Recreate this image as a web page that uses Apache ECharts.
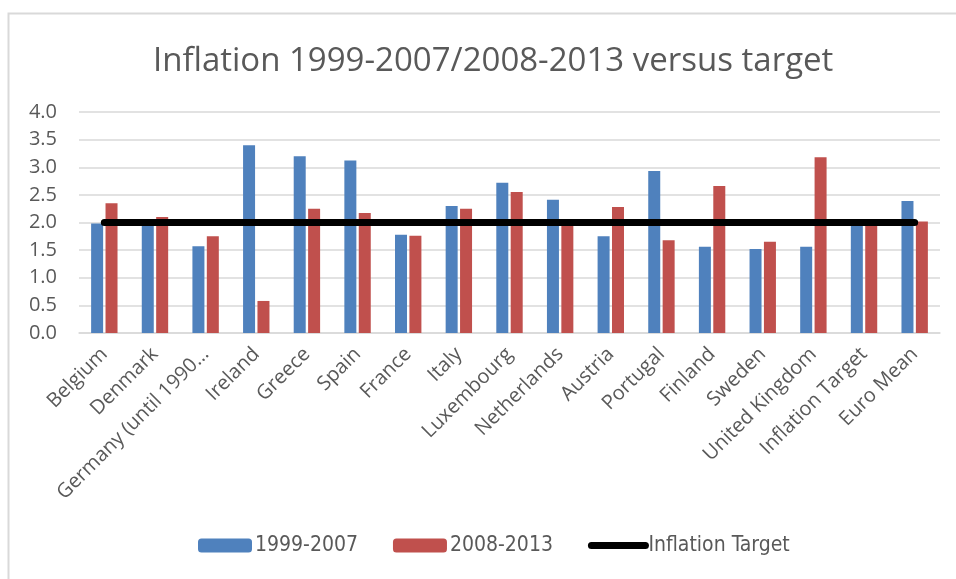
<!DOCTYPE html>
<html>
<head>
<meta charset="utf-8">
<style>
  html, body { margin: 0; padding: 0; background: #ffffff; }
  #chart { width: 956px; height: 579px; }
</style>
<script src="https://cdn.jsdelivr.net/npm/echarts@6/dist/echarts.min.js"></script>
</head>
<body>
<div id="chart"></div>
<script>
// Average annual inflation by country, two periods, against the 2% target
const countries = [
  'Belgium', 'Denmark', 'Germany (until 1990…', 'Ireland', 'Greece', 'Spain',
  'France', 'Italy', 'Luxembourg', 'Netherlands', 'Austria', 'Portugal',
  'Finland', 'Sweden', 'United Kingdom', 'Inflation Target', 'Euro Mean'
];
const period1999_2007 = [1.98, 2.01, 1.57, 3.40, 3.20, 3.12, 1.78, 2.30, 2.72, 2.41, 1.75, 2.93, 1.56, 1.52, 1.56, 2.00, 2.39];
const period2008_2013 = [2.35, 2.10, 1.75, 0.58, 2.25, 2.17, 1.76, 2.25, 2.55, 1.98, 2.28, 1.68, 2.66, 1.65, 3.18, 2.00, 2.02];
const inflationTarget = [2.0, 2.0, 2.0, 2.0, 2.0, 2.0, 2.0, 2.0, 2.0, 2.0, 2.0, 2.0, 2.0, 2.0, 2.0, 2.0, 2.0];
const yTicks = { min: 0, max: 4, step: 0.5 };

const textGray = '#595959';
const gridGray = '#d9d9d9';

const chart = echarts.init(document.getElementById('chart'), null, { renderer: 'canvas' });
chart.setOption({
  backgroundColor: '#ffffff',
  animation: false,
  title: {
    text: 'Inflation 1999-2007/2008-2013 versus target',
    left: 148,
    top: 40,
    textStyle: { fontFamily: 'Open Sans', fontSize: 33, fontWeight: 'normal', color: textGray }
  },
  graphic: [{
    type: 'rect',
    shape: { x: 8.5, y: 13.5, width: 1000, height: 1000 },
    style: { fill: 'none', stroke: gridGray, lineWidth: 2 },
    silent: true
  }],
  legend: {
    bottom: 18,
    left: 193,
    itemWidth: 54,
    itemHeight: 14,
    itemGap: 35,
    textStyle: { fontFamily: 'DejaVu Sans Condensed', fontSize: 21, color: textGray, padding: [0, 0, 0, -2] },
    data: [
      '1999-2007',
      '2008-2013',
      {
        name: 'Inflation Target',
        itemStyle: { opacity: 0 },
        lineStyle: { width: 7, cap: 'round', color: '#000000' }
      }
    ]
  },
  grid: { left: 79, right: 16, top: 112, bottom: 246 },
  xAxis: {
    type: 'category',
    data: countries,
    axisTick: { show: false },
    axisLine: { lineStyle: { color: gridGray, width: 1.5 } },
    axisLabel: {
      rotate: 45,
      interval: 0,
      margin: 18,
      fontFamily: 'Open Sans',
      fontSize: 20,
      color: textGray
    }
  },
  yAxis: {
    type: 'value',
    min: yTicks.min,
    max: yTicks.max,
    interval: yTicks.step,
    axisLine: { show: false },
    axisTick: { show: false },
    splitLine: { lineStyle: { color: gridGray, width: 1.5 } },
    axisLabel: {
      margin: 22,
      fontFamily: 'Open Sans',
      fontSize: 20,
      color: textGray,
      formatter: v => v.toFixed(1)
    }
  },
  series: [
    {
      name: '1999-2007',
      type: 'bar',
      data: period1999_2007,
      barWidth: 12,
      barGap: '20%',
      itemStyle: { color: '#4F81BD' }
    },
    {
      name: '2008-2013',
      type: 'bar',
      data: period2008_2013,
      barWidth: 12,
      itemStyle: { color: '#C0504D' }
    },
    {
      name: 'Inflation Target',
      type: 'line',
      data: inflationTarget,
      symbol: 'none',
      z: 5,
      lineStyle: { color: '#000000', width: 7, cap: 'round' },
      itemStyle: { color: '#000000' }
    }
  ]
});
</script>
</body>
</html>
